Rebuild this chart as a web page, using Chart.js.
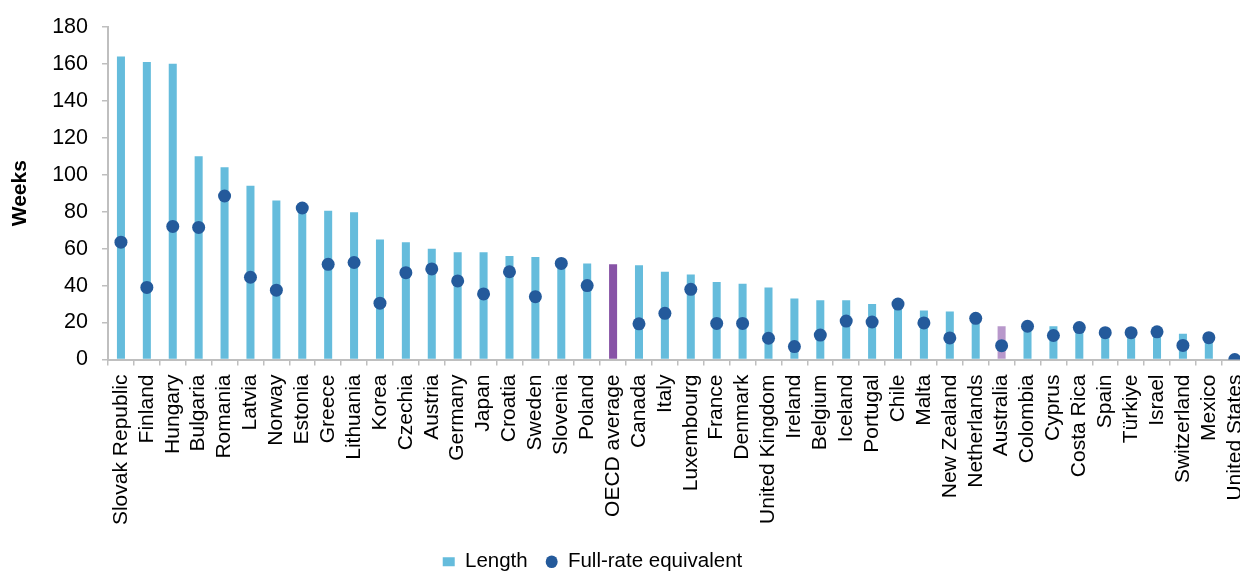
<!DOCTYPE html>
<html>
<head>
<meta charset="utf-8">
<script src="https://cdn.jsdelivr.net/npm/chart.js@4"></script>
<style>
  body { margin: 0; overflow: hidden; background: #fff; }
  #wrap { width: 1269px; height: 582px; }
</style>
</head>
<body>
<div id="wrap"><canvas id="myChart"></canvas></div>
<script>
const countries = ['Slovak Republic', 'Finland', 'Hungary', 'Bulgaria', 'Romania', 'Latvia', 'Norway', 'Estonia',
  'Greece', 'Lithuania', 'Korea', 'Czechia', 'Austria', 'Germany', 'Japan', 'Croatia', 'Sweden', 'Slovenia',
  'Poland', 'OECD average', 'Canada', 'Italy', 'Luxembourg', 'France', 'Denmark', 'United Kingdom', 'Ireland',
  'Belgium', 'Iceland', 'Portugal', 'Chile', 'Malta', 'New Zealand', 'Netherlands', 'Australia', 'Colombia',
  'Cyprus', 'Costa Rica', 'Spain', 'Türkiye', 'Israel', 'Switzerland', 'Mexico', 'United States']
const lengthWeeks = [164, 161, 160, 110, 104, 94, 86, 81.5, 80.5, 79.7, 65, 63.5, 60, 58, 58, 56, 55.5, 51.5,
  52, 51.5, 51, 47.5, 46, 42, 41, 39, 33, 32, 32, 30, 29.5, 26.5, 26, 22, 18, 17.5,
  18, 17, 14, 14, 14.5, 14, 11.5, 0]
const fullRate = [63.5, 39, 72, 71.5, 88.5, 44.5, 37.5, 82, 51.5, 52.5, 30.5, 47, 49, 42.5, 35.5, 47.5, 34, 52,
  40, null, 19.3, 25, 38, 19.5, 19.5, 11.5, 7, 13.2, 20.8, 20.3, 30, 19.8, 11.7, 22.3, 7.5, 18,
  13, 17.3, 14.5, 14.5, 15, 7.6, 11.8, 0]
const yTicks = [0, 20, 40, 60, 80, 100, 120, 140, 160, 180]

const barColors = countries.map(c => c === 'OECD average' ? '#8753a6' : c === 'Australia' ? '#b898cb' : '#65bcdc')
const FONT = 'Liberation Sans, Arial, sans-serif'

// legend in the original sits a bit left of centre
const legendShift = {
  id: 'legendShift',
  afterLayout(chart) {
    chart.legend.left -= 42
    chart.legend.right -= 42
  }
}

var ctx = document.getElementById('myChart').getContext('2d');
new Chart(ctx, {
  data: {
    labels: countries,
    datasets: [{
      type: 'bar',
      label: 'Length',
      data: lengthWeeks,
      backgroundColor: barColors,
      borderWidth: 0,
      barPercentage: 0.31,
      categoryPercentage: 1,
      pointStyle: 'rect',
      order: 1
    },
    {
      type: 'line',
      label: 'Full-rate equivalent',
      data: fullRate,
      showLine: false,
      backgroundColor: '#245a9b',
      borderColor: '#245a9b',
      pointRadius: 6.5,
      pointBorderWidth: 0,
      pointStyle: 'circle',
      order: 0
    }]
  },
  plugins: [legendShift],
  options: {
    responsive: true,
    maintainAspectRatio: false,
    animation: false,
    events: [],
    layout: { padding: { top: 16, right: 0, left: 0, bottom: 0 } },
    plugins: {
      tooltip: { enabled: false },
      legend: {
        position: 'bottom',
        reverse: true,
        labels: {
          usePointStyle: true,
          boxHeight: 9,
          pointStyleWidth: 12,
          padding: 18,
          color: '#000',
          font: { family: FONT, size: 20.5 }
        }
      }
    },
    scales: {
      x: {
        offset: true,
        grid: { drawOnChartArea: false, offset: true, tickLength: 6, color: '#bfbfbf', lineWidth: 1.5 },
        border: { color: '#bfbfbf', width: 2 },
        ticks: {
          autoSkip: false, maxRotation: 90, minRotation: 90, padding: 9,
          color: '#000', font: { family: FONT, size: 21 }
        },
        afterFit(scale) { scale.height = 174; }
      },
      y: {
        min: 0,
        max: 180,
        afterBuildTicks(scale) { scale.ticks = yTicks.map(v => ({ value: v })); },
        grid: { drawOnChartArea: false, tickLength: 6, color: '#bfbfbf', lineWidth: 1.5 },
        border: { color: '#bfbfbf', width: 2 },
        ticks: { padding: 14, color: '#000', font: { family: FONT, size: 21.5 } },
        title: {
          display: true, text: 'Weeks', color: '#000',
          font: { family: FONT, size: 21, weight: 'bold' },
          padding: { top: 8, bottom: 4 }
        },
        afterFit(scale) { scale.width = 108; }
      }
    }
  }
});
</script>
</body>
</html>
